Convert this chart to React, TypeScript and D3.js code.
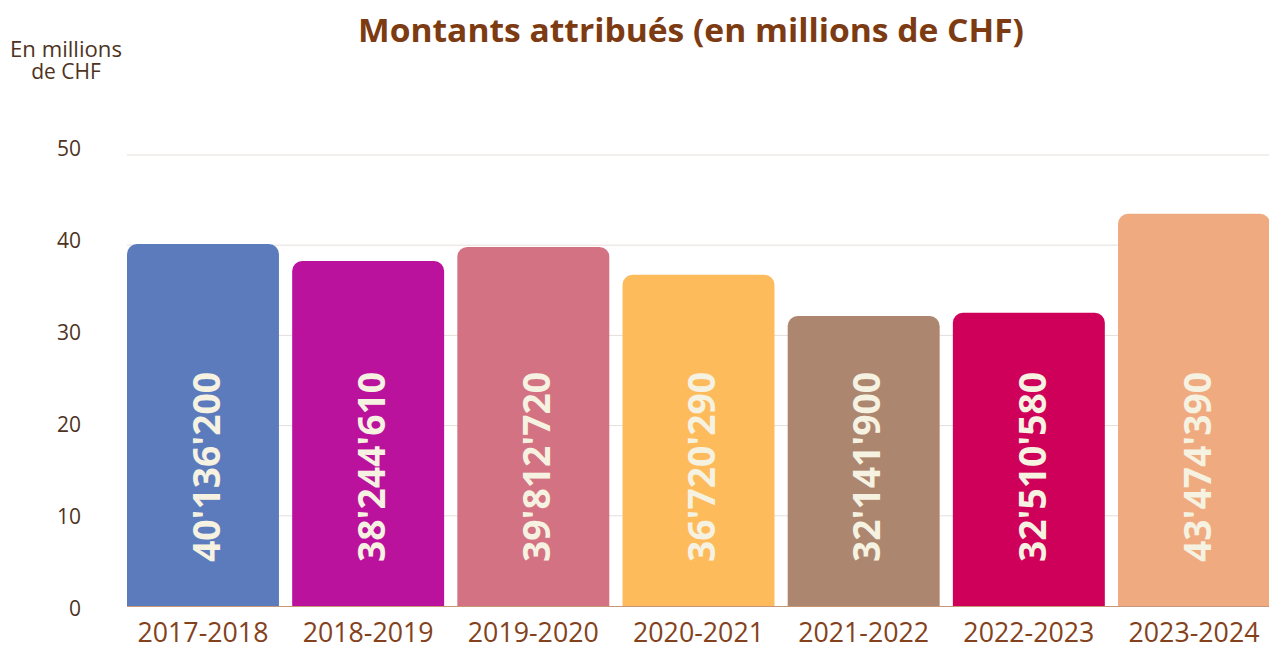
import React from "react"
import * as d3 from "d3"

const categories = ["2017-2018", "2018-2019", "2019-2020", "2020-2021", "2021-2022", "2022-2023", "2023-2024"]
const amounts = [40136200, 38244610, 39812720, 36720290, 32141900, 32510580, 43474390]
const barColors = ["#5c7bbd", "#bb129e", "#d37282", "#fdbb5c", "#ad8670", "#cf005a", "#f0aa80"]
const yTicks = [0, 10, 20, 30, 40, 50]

const W = 1269
const H = 646
const margin = { top: 155, right: 0, bottom: 40, left: 127 }

function topRounded(x: number, y: number, w: number, h: number, r: number) {
  const p = d3.path()
  p.moveTo(x, y + h)
  p.lineTo(x, y + r)
  p.arcTo(x, y, x + r, y, r)
  p.lineTo(x + w - r, y)
  p.arcTo(x + w, y, x + w, y + r, r)
  p.lineTo(x + w, y + h)
  p.closePath()
  return p.toString()
}

const fmt = (v: number) => d3.format(",")(v).replace(/,/g, "'")

export default function App() {
  const x = d3.scaleBand()
    .domain(categories)
    .range([margin.left, 1270])
    .paddingInner(0.08)
    .paddingOuter(0)

  const y = d3.scaleLinear()
    .domain([0, 50])
    .range([606, 155])

  // tick labels sit on a slightly wider spacing than the grid
  const yLab = d3.scaleLinear()
    .domain([0, 50])
    .range([608, 148])

  const font = "'Open Sans', sans-serif"

  return (
    <svg width={W} height={H} style={{ position: "absolute", left: 0, top: 0 }}>
      <rect width={W} height={H} fill="#fff" />
      <text x={691} y={42} textAnchor="middle" fontFamily={font} fontWeight={700}
        fontSize={32} fill="#7c3b12" textLength={666} lengthAdjust="spacingAndGlyphs">
        Montants attribués (en millions de CHF)
      </text>
      <text x={66} y={57} textAnchor="middle" fontFamily={font} fontSize={21} fill="#4e3322"
        textLength={112} lengthAdjust="spacingAndGlyphs">En millions</text>
      <text x={66} y={79} textAnchor="middle" fontFamily={font} fontSize={21} fill="#4e3322">de CHF</text>

      {yTicks.map(t => (
        <g key={t}>
          {t > 0 && <line x1={margin.left} x2={W} y1={y(t)} y2={y(t)} stroke="#e6dfdb" strokeWidth={1} />}
          <text x={81} y={yLab(t) + 8} textAnchor="end" fontFamily={font} fontSize={21} fill="#4e3322">{t}</text>
        </g>
      ))}

      <line x1={margin.left} x2={W} y1={y(0) + 0.5} y2={y(0) + 0.5} stroke="#c8977a" strokeWidth={1} />

      {categories.map((c, i) => {
        const bx = x(c)!
        const v = amounts[i] / 1e6
        const top = y(v)
        const cx = bx + x.bandwidth() / 2
        return (
          <g key={c}>
            <path d={topRounded(bx, top, x.bandwidth(), y(0) - top, 10)} fill={barColors[i]} />
            <text transform={`translate(${cx + 3},${562}) rotate(-90)`} dy="0.36em"
              fontFamily={font} fontWeight={700} fontSize={38} fill="#f6f2e1"
              textLength={190} lengthAdjust="spacingAndGlyphs">
              {fmt(amounts[i])}
            </text>
            <text x={cx} y={642} textAnchor="middle" fontFamily={font} fontSize={28} fill="#84421c"
              textLength={131} lengthAdjust="spacingAndGlyphs">{c}</text>
          </g>
        )
      })}
    </svg>
  )
}
